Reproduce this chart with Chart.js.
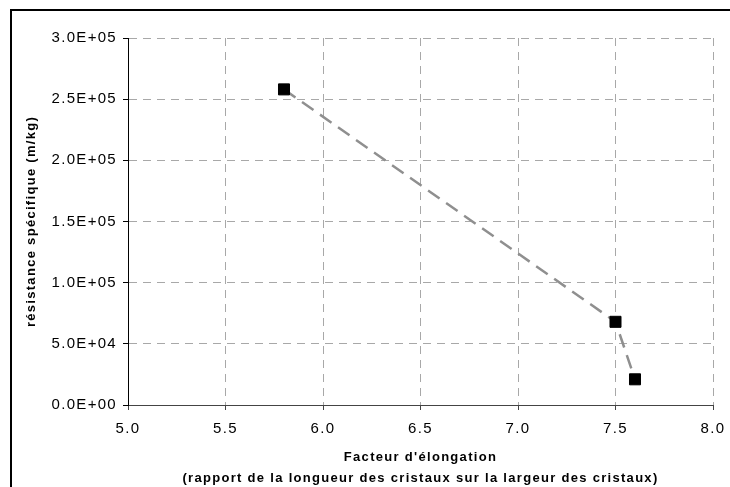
<!DOCTYPE html>
<html>
<head>
<meta charset="utf-8">
<script src="https://cdn.jsdelivr.net/npm/chart.js@4"></script>
<style>
  html, body { margin: 0; padding: 0; background: #fff; overflow: hidden; }
  #wrap { position: relative; width: 730px; height: 487px; }
  #cadre { position: absolute; left: 10px; top: 9px; width: 800px; height: 600px; border: 2px solid #000; box-sizing: border-box; pointer-events: none; }
</style>
</head>
<body>
<div id="wrap">
  <canvas id="graphe" width="730" height="487"></canvas>
  <div id="cadre"></div>
</div>
<script>
  // valeurs
  const elongation = [5.8, 7.5, 7.6];
  const resistance = [258000, 68000, 21000];

  const xTicks = ["5.0", "5.5", "6.0", "6.5", "7.0", "7.5", "8.0"];
  const yTicks = ["0.0E+00", "5.0E+04", "1.0E+05", "1.5E+05", "2.0E+05", "2.5E+05", "3.0E+05"];

  const xTitre = ["Facteur d'élongation", "(rapport de la longueur des cristaux sur la largeur des cristaux)"];
  const yTitre = "résistance spécifique (m/kg)";

  (() => {
    const police = "'Liberation Sans', Arial, sans-serif";

    // espacement des lettres comme dans Excel
    const espacement = {
      id: "espacement",
      beforeUpdate(chart) { chart.ctx.letterSpacing = "1.3px"; },
      beforeDraw(chart) { chart.ctx.letterSpacing = "1.3px"; }
    };

    const ctx = document.getElementById("graphe").getContext("2d");

    new Chart(ctx, {
      type: "scatter",
      data: {
        datasets: [
          {
            data: elongation.map((x, i) => ({ x: x, y: resistance[i] })),
            showLine: true,
            borderColor: "#8f8f8f",
            borderWidth: 2.5,
            borderDash: [14, 8],
            pointStyle: "rect",
            pointRadius: 7.8,
            pointBackgroundColor: "#000",
            pointBorderColor: "#000",
            pointBorderWidth: 1,
            clip: false,
          },
        ],
      },
      options: {
        responsive: false,
        animation: false,
        layout: { padding: { left: 0, top: 38, right: 17, bottom: 0 } },
        plugins: {
          legend: { display: false },
          tooltip: { enabled: false },
        },
        scales: {
          x: {
            type: "linear",
            min: 5,
            max: 8,
            afterFit: (scale) => {
              scale.height = 82;
              scale.paddingLeft = 0;
              scale.paddingRight = 0;
            },
            afterBuildTicks: (scale) => {
              scale.ticks = xTicks.map(t => ({ value: parseFloat(t) }));
            },
            ticks: {
              callback: (v, i) => xTicks[i],
              color: "#000",
              padding: 10,
              maxRotation: 0,
              font: { family: police, size: 15 },
            },
            grid: {
              color: "#a8a8a8",
              tickLength: 5,
              tickColor: "#444",
              tickBorderDash: [],
            },
            border: { display: true, color: "#444", width: 1, dash: [8, 6] },
            title: {
              display: true,
              text: xTitre,
              color: "#000",
              padding: { top: 0, bottom: -1.5 },
              font: { family: police, size: 13, weight: "bold", lineHeight: 21 / 13 },
            },
          },
          y: {
            type: "linear",
            min: 0,
            max: 300000,
            afterFit: (scale) => {
              scale.width = 128;
              scale.paddingTop = 0;
              scale.paddingBottom = 0;
            },
            afterBuildTicks: (scale) => {
              scale.ticks = yTicks.map(t => ({ value: parseFloat(t) }));
            },
            ticks: {
              callback: (v, i) => yTicks[i],
              color: "#000",
              padding: 6,
              font: { family: police, size: 15 },
            },
            grid: {
              color: "#a8a8a8",
              tickLength: 5,
              tickColor: "#000",
              tickBorderDash: [],
            },
            border: { display: true, color: "#000", width: 1, dash: [8, 6] },
            title: {
              display: true,
              text: yTitre,
              color: "#000",
              padding: { top: 23.7, bottom: 0 },
              font: { family: police, size: 13, weight: "bold" },
            },
          },
        },
      },
      plugins: [espacement],
    });
  })();
</script>
</body>
</html>
